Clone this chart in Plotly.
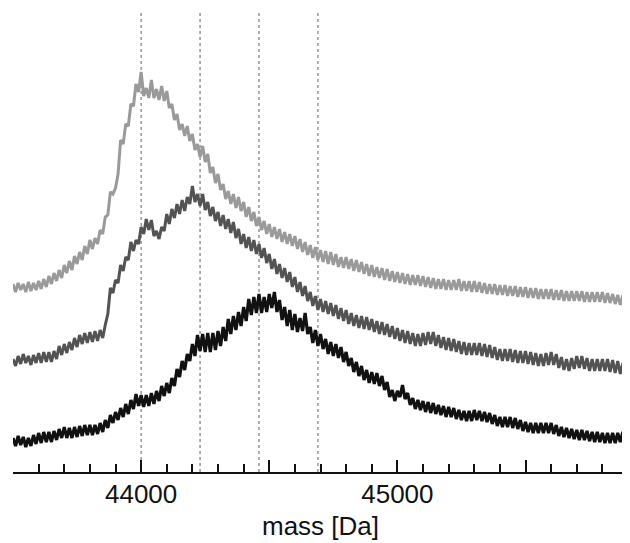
import plotly.graph_objects as go

# mass axis sampling (Da)
mass = list(range(43500, 45901, 10))

# stacked spectra intensities (arbitrary units, vertically offset traces)
spectrum_top = [
    186, 178, 187, 180, 186, 178, 188, 179, 187, 180,
    189, 181, 191, 183, 194, 186, 197, 189, 200, 192,
    205, 197, 209, 200, 214, 206, 218, 210, 224, 216,
    230, 221, 232, 226, 240, 236, 253, 255, 278, 276,
    282, 296, 330, 326, 346, 344, 366, 364, 386, 378,
    398, 374, 382, 372, 390, 372, 381, 370, 384, 369,
    379, 362, 366, 350, 356, 340, 346, 334, 344, 329,
    336, 320, 326, 313, 324, 308, 316, 297, 303, 287,
    296, 280, 286, 271, 279, 266, 276, 262, 273, 259,
    268, 253, 263, 249, 258, 244, 253, 240, 249, 236,
    246, 233, 243, 231, 241, 228, 238, 226, 236, 224,
    234, 221, 231, 218, 228, 215, 225, 212, 223, 210,
    220, 208, 219, 206, 218, 205, 216, 203, 213, 202,
    213, 201, 211, 199, 210, 198, 208, 196, 206, 194,
    205, 193, 203, 192, 202, 190, 201, 189, 199, 188,
    198, 187, 197, 186, 196, 185, 195, 185, 195, 184,
    194, 183, 193, 182, 192, 181, 191, 181, 191, 180,
    190, 180, 190, 180, 191, 179, 189, 179, 189, 178,
    189, 178, 188, 177, 187, 176, 186, 176, 186, 175,
    185, 175, 185, 174, 184, 174, 184, 173, 183, 173,
    183, 172, 182, 172, 182, 171, 181, 171, 181, 171,
    181, 170, 180, 170, 180, 169, 179, 169, 179, 169,
    179, 169, 179, 168, 178, 168, 178, 168, 178, 168,
    178, 167, 177, 167, 176, 166, 175, 165, 175, 164,
    170,
]

spectrum_mid = [
    111, 104, 114, 106, 116, 107, 114, 105, 115, 107,
    117, 107, 118, 108, 118, 108, 119, 111, 124, 115,
    126, 117, 128, 120, 132, 123, 135, 126, 137, 127,
    138, 128, 139, 129, 140, 132, 145, 156, 182, 177,
    190, 187, 205, 199, 213, 210, 228, 219, 230, 226,
    243, 236, 251, 240, 250, 234, 239, 231, 243, 239,
    256, 246, 261, 252, 266, 256, 270, 259, 273, 266,
    284, 268, 276, 264, 276, 260, 268, 254, 263, 249,
    258, 244, 255, 241, 251, 237, 248, 232, 241, 226,
    236, 222, 233, 219, 230, 216, 226, 212, 222, 207,
    216, 201, 211, 196, 206, 192, 202, 188, 198, 183,
    193, 178, 188, 174, 184, 169, 178, 164, 174, 160,
    171, 158, 169, 156, 167, 154, 165, 151, 162, 149,
    160, 146, 157, 144, 155, 142, 154, 141, 153, 140,
    151, 138, 149, 136, 148, 135, 146, 133, 144, 131,
    142, 129, 140, 127, 139, 126, 137, 124, 136, 124,
    137, 125, 138, 126, 138, 124, 135, 122, 133, 120,
    132, 119, 131, 118, 129, 116, 128, 115, 127, 115,
    127, 115, 127, 114, 126, 113, 125, 112, 123, 110,
    121, 109, 121, 109, 121, 108, 120, 107, 119, 107,
    119, 106, 118, 105, 117, 104, 116, 104, 117, 105,
    118, 105, 116, 102, 113, 100, 111, 99, 112, 101,
    114, 102, 114, 101, 112, 99, 111, 99, 111, 99,
    111, 99, 111, 98, 110, 97, 109, 96, 107, 94,
    104,
]

spectrum_low = [
    32, 24, 34, 25, 33, 23, 32, 24, 35, 26,
    37, 27, 38, 28, 38, 28, 39, 30, 41, 32,
    43, 32, 42, 32, 43, 33, 44, 34, 45, 35,
    45, 35, 45, 36, 47, 38, 50, 42, 55, 47,
    58, 50, 62, 53, 66, 56, 70, 61, 76, 64,
    75, 63, 75, 64, 77, 66, 79, 69, 84, 74,
    87, 77, 92, 84, 101, 93, 109, 100, 116, 109,
    126, 114, 135, 119, 136, 118, 137, 118, 137, 120,
    139, 124, 143, 129, 151, 136, 154, 140, 158, 144,
    163, 149, 171, 155, 173, 157, 176, 157, 173, 158,
    176, 162, 178, 158, 170, 150, 163, 144, 160, 140,
    156, 138, 152, 139, 157, 136, 143, 127, 140, 124,
    136, 121, 131, 116, 128, 114, 126, 112, 123, 108,
    118, 104, 112, 98, 108, 94, 104, 90, 100, 87,
    98, 86, 97, 84, 94, 80, 88, 73, 80, 69,
    79, 73, 85, 71, 77, 65, 72, 61, 70, 60,
    69, 58, 68, 57, 67, 56, 65, 55, 64, 53,
    63, 53, 62, 51, 60, 50, 59, 49, 59, 49,
    60, 50, 59, 49, 58, 48, 57, 46, 55, 44,
    53, 43, 53, 43, 53, 42, 52, 41, 50, 39,
    48, 38, 47, 37, 47, 37, 47, 37, 47, 37,
    47, 36, 45, 34, 43, 33, 42, 32, 41, 31,
    40, 30, 40, 30, 39, 29, 38, 28, 38, 28,
    37, 27, 37, 27, 37, 27, 37, 28, 38, 28,
    38,
]

# reference masses marked by dashed lines (Da)
marker_masses = [44000, 44230, 44460, 44690]

# tick labels
major_ticks = [44000, 44500, 45000, 45500]
major_labels = ["44000", "", "45000", ""]

series = [
    ("spectrum 1", spectrum_top, "#9a9a9a", 3.0),
    ("spectrum 2", spectrum_mid, "#535353", 3.0),
    ("spectrum 3", spectrum_low, "#111111", 3.2),
]

fig = go.Figure()

for m in marker_masses:
    fig.add_shape(
        type="line", xref="x", yref="paper",
        x0=m, x1=m, y0=0, y1=0.995,
        line=dict(color="#7a7a7a", width=1.2, dash="dot"),
        layer="below",
    )

for name, vals, color, w in series:
    fig.add_trace(go.Scatter(
        x=mass, y=vals, mode="lines", name=name,
        line=dict(color=color, width=w),
        showlegend=False,
    ))

fig.update_layout(
    width=622, height=535,
    margin=dict(l=5, r=2, t=2, b=71, autoexpand=False),
    paper_bgcolor="white",
    plot_bgcolor="white",
    font=dict(family="Liberation Sans, Arial, sans-serif", color="#111111"),
    xaxis=dict(
        range=[43500, 45900],
        automargin=False,
        showgrid=False, zeroline=False,
        showline=True, linecolor="#111111", linewidth=2,
        ticks="inside", ticklen=12, tickwidth=2, tickcolor="#111111",
        tickvals=major_ticks, ticktext=major_labels,
        tickfont=dict(size=26, color="#111111"),
        ticklabelstandoff=-2,
        minor=dict(dtick=100, ticks="inside", ticklen=8, tickwidth=1.5,
                   tickcolor="#111111", showgrid=False),
        title=dict(text="mass [Da]", font=dict(size=26, color="#111111"),
                   standoff=9),
    ),
    yaxis=dict(range=[-2, 460], visible=False, fixedrange=True),
)

fig.write_html("out.html")
